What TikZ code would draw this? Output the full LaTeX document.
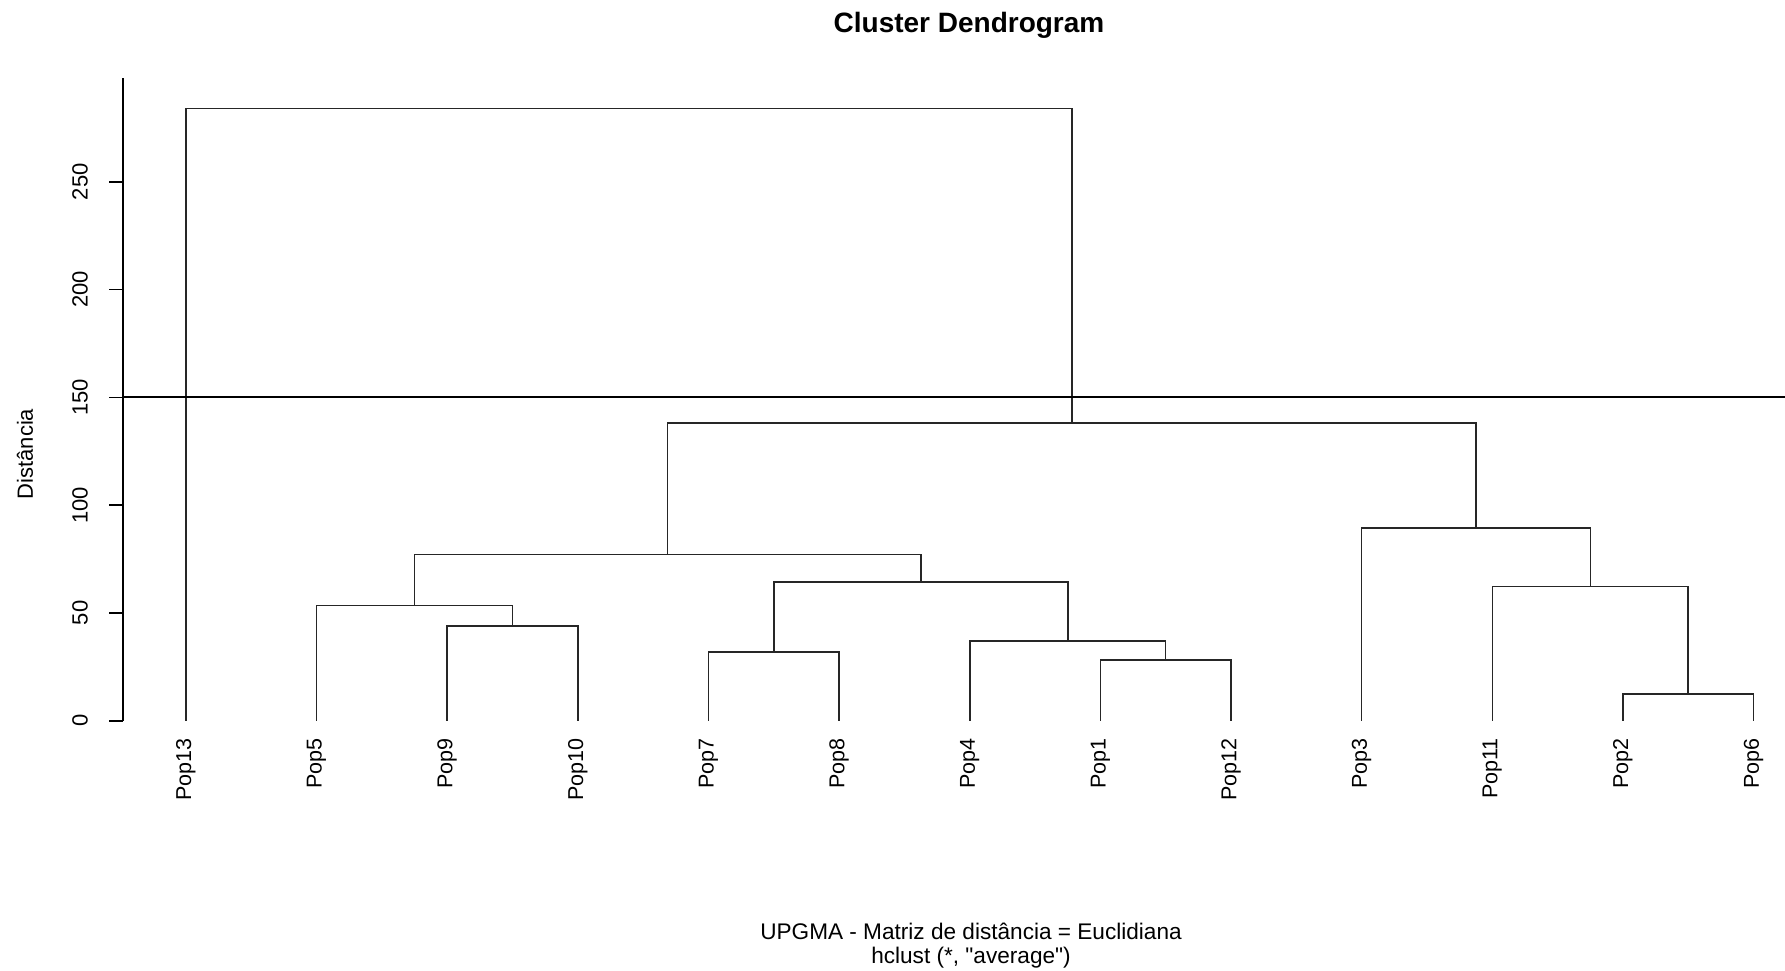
\documentclass[tikz,border=0pt]{standalone}
\usepackage{fontspec}
\setmainfont{Liberation Sans}[Ligatures=TeXOff]
\begin{document}
\begin{tikzpicture}[x=1pt,y=1pt,
  tree/.style={line width=1.6pt,black!85},
  leaflab/.style={rotate=90,anchor=east,inner sep=0pt,font=\fontsize{21.5}{25}\selectfont},
  ticklab/.style={rotate=90,anchor=center,inner sep=0pt,font=\fontsize{22}{26}\selectfont},
  axisline/.style={line width=1.5pt,black}]
\useasboundingbox (0,0) rectangle (1785,971);
\fill[white] (0,0) rectangle (1785,971);
% title and captions
\node[font=\bfseries\fontsize{28}{32}\selectfont,anchor=base] (title) at (969,938) {Cluster Dendrogram};
\node[font=\fontsize{22.6}{26}\selectfont,anchor=base] (sub1) at (971,31) {UPGMA - Matriz de distância = Euclidiana};
\node[font=\fontsize{22.6}{26}\selectfont,anchor=base] (sub2) at (971,7) {hclust (*, "average")};
\node[rotate=90,font=\fontsize{22}{26}\selectfont,inner sep=0pt] (ylab) at (25,517) {Distância};
\begin{scope}[shift={(0pt,250.2pt)},y=2.156pt]
  % axis
  \draw[axisline] (123,0) coordinate (ax0) -- (123,298) coordinate (axtop);
  \foreach \v in {0,50,100,150,200,250}{
    \draw[axisline] (109,\v) -- (123,\v);
    \node[ticklab] (t\v) at (80,\v) {\v};
  }
  % leaves
  \foreach \n/\i in {Pop13/0,Pop5/1,Pop9/2,Pop10/3,Pop7/4,Pop8/5,Pop4/6,Pop1/7,Pop12/8,Pop3/9,Pop11/10,Pop2/11,Pop6/12}{
    \coordinate (\n) at ({185.8+130.65*\i},0);
    \node[leaflab] (lab\n) at ({185.8+130.65*\i},-8) {\n};
  }
  % merges
  \coordinate (m910)  at ({185.8+130.65*2.5},44);
  \coordinate (m5)    at ({185.8+130.65*1.75},53.5);
  \coordinate (m78)   at ({185.8+130.65*4.5},31.8);
  \coordinate (m112)  at ({185.8+130.65*7.5},28.3);
  \coordinate (m4)    at ({185.8+130.65*6.75},37.1);
  \coordinate (m7to12) at ({185.8+130.65*5.625},64.4);
  \coordinate (mL)    at ({185.8+130.65*3.6875},77.2);
  \coordinate (m26)   at ({185.8+130.65*11.5},12.4);
  \coordinate (m11)   at ({185.8+130.65*10.75},62.2);
  \coordinate (mR)    at ({185.8+130.65*9.875},89.3);
  \coordinate (mLR)   at ({185.8+130.65*6.78125},138);
  \coordinate (root)  at ({185.8+130.65*3.390625},284);
  \draw[tree] (Pop9) |- (m910) -| (Pop10);
  \draw[tree] (Pop5) |- (m5) -| (m910);
  \draw[tree] (Pop7) |- (m78) -| (Pop8);
  \draw[tree] (Pop1) |- (m112) -| (Pop12);
  \draw[tree] (Pop4) |- (m4) -| (m112);
  \draw[tree] (m78) |- (m7to12) -| (m4);
  \draw[tree] (m5) |- (mL) -| (m7to12);
  \draw[tree] (Pop2) |- (m26) -| (Pop6);
  \draw[tree] (Pop11) |- (m11) -| (m26);
  \draw[tree] (Pop3) |- (mR) -| (m11);
  \draw[tree] (mL) |- (mLR) -| (mR);
  \draw[tree] (Pop13) |- (root) -| (mLR);
  % cut line
  \coordinate (cutR) at (1785,150);
  \draw[line width=2pt,black] (123,150) coordinate (cutL) -- (cutR);
\end{scope}
\end{tikzpicture}
\end{document}
